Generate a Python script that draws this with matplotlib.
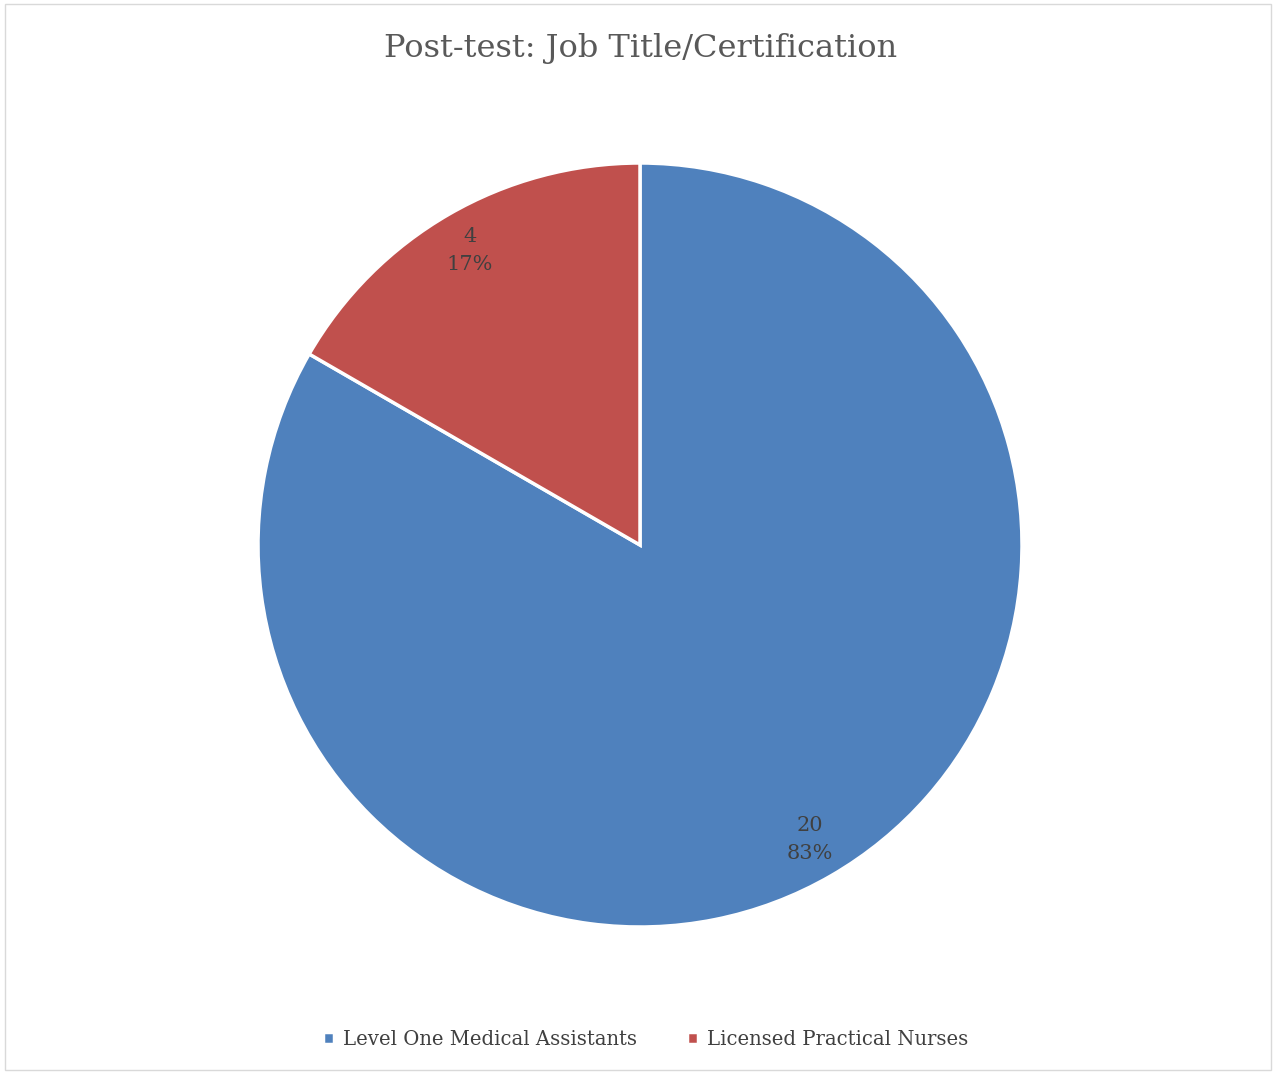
import matplotlib
matplotlib.use('Agg')
import matplotlib.pyplot as plt
from matplotlib.patches import Rectangle

# data
categories = ["Level One Medical Assistants", "Licensed Practical Nurses"]
counts = [20, 4]
colors = ["#4F81BD", "#C0504D"]
title = "Post-test: Job Title/Certification"

plt.rcParams['font.family'] = ['DejaVu Serif']
text_color = "#404040"

fig = plt.figure(figsize=(12.76, 10.74), dpi=100)
fig.patches.append(Rectangle((0.004, 0.004), 0.992, 0.992, transform=fig.transFigure,
                             fill=False, edgecolor="#d9d9d9", linewidth=1))

ax = fig.add_axes([258 / 1276, 147 / 1074, 764 / 1276, 764 / 1074])
total = sum(counts)

def fmt(p):
    n = int(round(p * total / 100))
    return f"{n}\n{p:.0f}%"

wedges, texts, autotexts = ax.pie(
    counts, colors=colors, startangle=90, counterclock=False,
    autopct=fmt, pctdistance=0.89, radius=1,
    wedgeprops=dict(edgecolor="white", linewidth=2.5),
    textprops=dict(color=text_color, fontsize=15, linespacing=1.55))
ax.set_xlim(-1, 1)
ax.set_ylim(-1, 1)
ax.set_aspect('equal')
ax.axis('off')

fig.text(0.502, 0.955, title, ha='center', va='center', fontsize=23, color="#595959")

leg = fig.legend(wedges, categories, loc='center', bbox_to_anchor=(0.506, 0.032),
                 ncol=2, frameon=False, fontsize=14.1, handlelength=0.55, handleheight=0.55,
                 handletextpad=0.45, columnspacing=2.6)
for t in leg.get_texts():
    t.set_color(text_color)

fig.savefig("out.png", dpi=100)
